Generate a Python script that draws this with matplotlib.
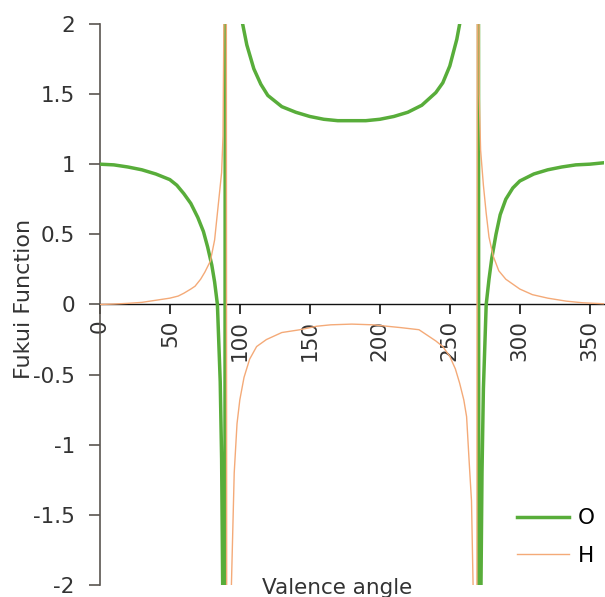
import matplotlib
matplotlib.use("Agg")
import matplotlib.pyplot as plt
from matplotlib.ticker import FuncFormatter

plt.rcParams['font.family'] = ['DejaVu Sans']

# Fukui function of O (green)
angle_O = [0, 10, 20, 30, 40, 50, 55, 60, 65, 70, 74, 77, 80, 82, 84, 86, 87, 88, 89,
           90, 95, 100, 102, 105, 110, 115, 120, 130, 140, 150, 160, 170, 180, 190,
           200, 210, 220, 230, 240, 245, 250, 255, 258, 262, 266, 270,
           271, 272, 273, 274, 276, 278, 280, 283, 286, 290, 295, 300, 310, 320,
           330, 340, 350, 360]
fukui_O = [1.00, 0.995, 0.98, 0.96, 0.93, 0.89, 0.85, 0.79, 0.72, 0.62, 0.52, 0.41, 0.28,
           0.16, 0.00, -0.55, -1.1, -2.3, -8.0,
           9.0, 3.0, 2.2, 2.0, 1.85, 1.68, 1.57, 1.49, 1.41, 1.37, 1.34, 1.32, 1.31, 1.31,
           1.31, 1.32, 1.34, 1.37, 1.42, 1.51, 1.58, 1.70, 1.89, 2.05, 2.6, 4.0, 12.0,
           -8.0, -2.3, -1.2, -0.6, 0.0, 0.18, 0.33, 0.50, 0.64, 0.75, 0.83, 0.88, 0.93,
           0.96, 0.98, 0.995, 1.0, 1.01]

# Fukui function of H (orange)
angle_H = [0, 10, 20, 30, 40, 50, 56, 60, 65, 68, 72, 75, 79, 82, 84.5, 87, 88, 89,
           90, 91, 92, 94, 96, 98, 100, 103, 107, 112, 119, 130, 143, 155, 165, 180,
           195, 205, 215, 228, 240, 245, 250, 254, 257, 260, 262, 264, 265.5, 267,
           268, 269, 270, 271, 272, 274, 276, 278, 281, 285, 290, 300, 309, 320, 333,
           345, 360]
fukui_H = [0.0, 0.003, 0.008, 0.015, 0.03, 0.045, 0.06, 0.08, 0.11, 0.13, 0.18, 0.23, 0.31,
           0.46, 0.70, 0.94, 1.2, 2.5,
           9.0, -9.0, -4.0, -2.0, -1.2, -0.85, -0.68, -0.52, -0.39, -0.30, -0.25, -0.20,
           -0.18, -0.155, -0.145, -0.14, -0.145, -0.155, -0.165, -0.18, -0.26, -0.30,
           -0.37, -0.46, -0.56, -0.68, -0.80, -1.15, -1.4, -2.2,
           -4.0, -9.0, 9.0, 1.5, 1.1, 0.85, 0.65, 0.48, 0.345, 0.24, 0.18, 0.11, 0.07,
           0.045, 0.024, 0.012, 0.005]

x_ticks = [0, 50, 100, 150, 200, 250, 300, 350]
y_ticks = [-2, -1.5, -1, -0.5, 0, 0.5, 1, 1.5, 2]

fig = plt.figure(figsize=(6.05, 5.97), dpi=100)
ax = fig.add_axes([0.165, 0.02, 0.833, 0.94])

ax.plot(angle_O, fukui_O, color='#58ad3a', lw=2.5, label='O', zorder=3)
ax.plot(angle_H, fukui_H, color='#f4aa78', lw=1.0, label='H', zorder=4)

ax.set_xlim(0, 360)
ax.set_ylim(-2, 2)
ax.set_xticks(x_ticks)
ax.set_yticks(y_ticks)
ax.yaxis.set_major_formatter(FuncFormatter(lambda v, p: f'{v:g}'))

ax.spines['top'].set_visible(False)
ax.spines['right'].set_visible(False)
ax.spines['bottom'].set_position(('data', 0))
ax.spines['bottom'].set_color('#111111')
ax.spines['left'].set_color('#5a5550')
ax.spines['left'].set_linewidth(1.2)
ax.spines['bottom'].set_linewidth(1.0)

ax.tick_params(axis='x', direction='out', length=7, width=1.2, color='#111111',
               labelsize=15.5, labelrotation=90, pad=4, labelcolor='#333333')
ax.tick_params(axis='y', direction='out', length=8, width=1.2, color='#5a5550',
               labelsize=15.5, pad=10, labelcolor='#333333')

ax.set_ylabel('Fukui Function', fontsize=16, color='#333333', labelpad=0)
ax.yaxis.set_label_coords(-0.13, 0.51)
ax.text(0.47, -0.005, 'Valence angle', transform=ax.transAxes, fontsize=15.5,
        color='#333333', ha='center', va='center')

ax.legend(loc='lower right', bbox_to_anchor=(1.02, 0.0), frameon=False, fontsize=15.5,
          handlelength=2.4, labelspacing=0.8, handletextpad=0.4)

fig.savefig('out.png', dpi=100)
